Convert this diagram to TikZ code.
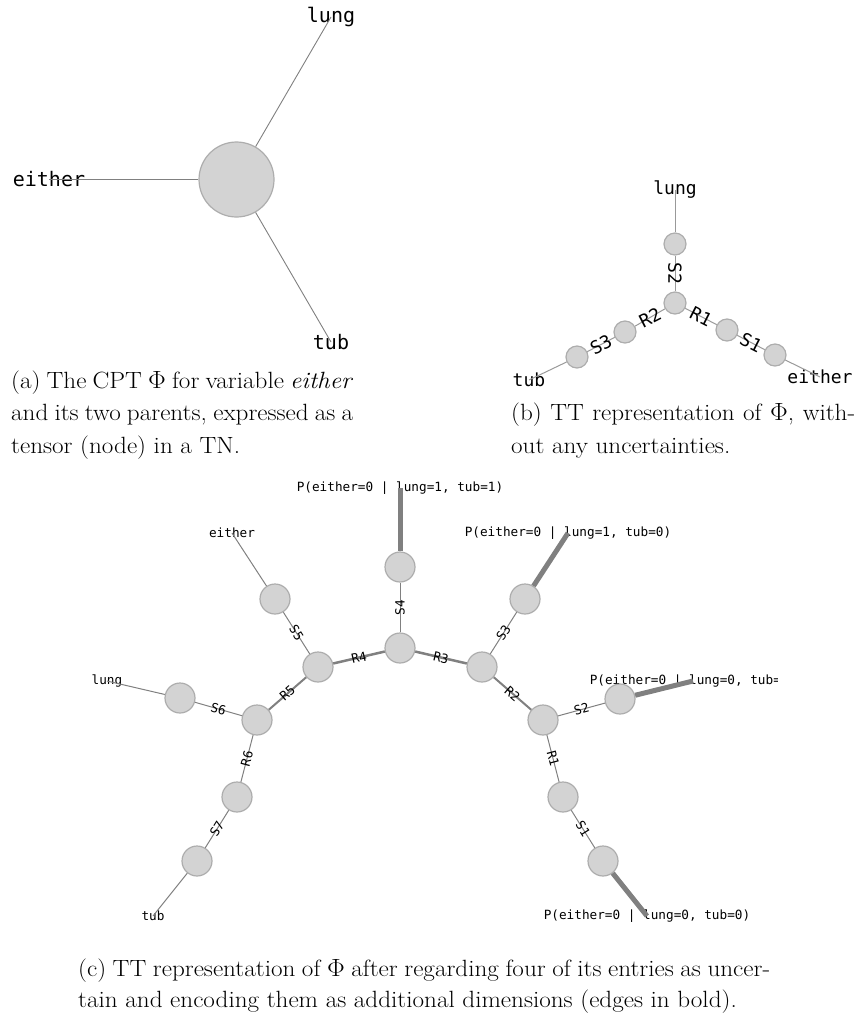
\documentclass[tikz,border=0pt]{standalone}
\usepackage{fontspec}
\newfontfamily\mono{DejaVu Sans Mono}
\definecolor{nodefill}{HTML}{D3D3D3}
\definecolor{nodeedge}{HTML}{ADADAD}
\definecolor{edgegray}{HTML}{808080}
\definecolor{edgelight}{HTML}{999999}
\newcommand{\capline}[2]{\scalebox{1.07}[1]{\makebox[#1pt][s]{#2}}}
\newcommand{\capnat}[1]{\scalebox{1.07}[1]{#1}}
\begin{document}
\begin{tikzpicture}[x=1pt,y=-1pt,
  tn/.style={circle, fill=nodefill, draw=nodeedge, line width=1.2pt, inner sep=0pt, minimum size=#1},
  lbla/.style={font=\mono\fontsize{20}{24}\selectfont, inner sep=0pt},
  lblb/.style={font=\mono\fontsize{18}{22}\selectfont, inner sep=0pt},
  lblc/.style={font=\mono\fontsize{12.7}{15}\selectfont, inner sep=0pt},
  elb/.style={font=\mono\fontsize{18}{22}\selectfont, inner sep=0pt},
  elc/.style={font=\mono\fontsize{12.7}{15}\selectfont, inner sep=0pt},
  ea/.style={draw=edgegray, line width=0.9pt},
  eb/.style={draw=edgelight, line width=1pt},
  ethin/.style={draw=edgegray, line width=1pt},
  emid/.style={draw=edgegray, line width=2pt},
  ewide/.style={draw=edgegray, line width=2.5pt},
  ebold/.style={draw=edgegray, line width=5pt},
  capstyle/.style={font=\fontsize{23.5}{33}\selectfont, anchor=base west, inner sep=0pt}]
\useasboundingbox (0,0) rectangle (859,1013);

% ---------------- panel (a)
\node[lbla] (ta_lung) at (331,17) {lung};
\node[lbla] (ta_either) at (49,179.5) {either};
\node[lbla] (ta_tub) at (331,342) {tub};
\node[tn=75] (A) at (236.5,179.5) {};
\draw[ea] (A) -- (ta_lung.center);
\draw[ea] (A) -- (ta_either.center);
\draw[ea] (A) -- (ta_tub.center);

% ---------------- panel (b)
\node[lblb] (tb_lung) at (675,190) {lung};
\node[lblb] (tb_either) at (820,377) {either};
\node[lblb] (tb_tub) at (529,380) {tub};
\node[tn=22] (b_c) at (675,303) {};
\node[tn=22] (b_s2) at (675,244) {};
\node[tn=22] (b_r1) at (727,330) {};
\node[tn=22] (b_s1) at (775,355) {};
\node[tn=22] (b_r2) at (625,332) {};
\node[tn=22] (b_s3) at (577,357) {};
\draw[eb] (b_s2) -- (tb_lung.center);
\draw[eb] (b_s1) -- (tb_either.center);
\draw[eb] (b_s3) -- (tb_tub.center);
\draw[eb] (b_c) -- node[elb, rotate=-90] {S2} (b_s2);
\draw[eb] (b_c) -- node[elb, rotate=-27] {R1} (b_r1);
\draw[eb] (b_r1) -- node[elb, rotate=-27] {S1} (b_s1);
\draw[eb] (b_c) -- node[elb, rotate=27] {R2} (b_r2);
\draw[eb] (b_r2) -- node[elb, rotate=27] {S3} (b_s3);

% ---------------- panel (c)
\node[lblc] (tc_p11) at (400,488) {P(either=0 | lung=1, tub=1)};
\node[lblc] (tc_p10) at (568,533) {P(either=0 | lung=1, tub=0)};
\node[lblc] (tc_either) at (232,533) {either};
\node[lblc] (tc_lung) at (107,681) {lung};
\node[lblc] (tc_tub) at (153,916) {tub};
\node[lblc] (tc_p00) at (647,916) {P(either=0 | lung=0, tub=0)};
\begin{scope}
\clip (0,0) rectangle (777,1013);
\node[lblc] (tc_p01) at (693,681) {P(either=0 | lung=0, tub=1)};
\end{scope}

\node[tn=30] (c4t) at (400,567) {};
\node[tn=30] (c34) at (400,648) {};
\node[tn=30] (c45) at (318,667) {};
\node[tn=30] (c5t) at (275,599) {};
\node[tn=30] (c23) at (482,667) {};
\node[tn=30] (c3t) at (525,599) {};
\node[tn=30] (c56) at (257,720) {};
\node[tn=30] (c6l) at (180,698) {};
\node[tn=30] (c67) at (237,797) {};
\node[tn=30] (c7b) at (197,861) {};
\node[tn=30] (c12) at (543,720) {};
\node[tn=30] (c2r) at (620,699) {};
\node[tn=30] (c1m) at (563,797) {};
\node[tn=30] (c1b) at (603,861) {};

\draw[ebold] (c4t) -- (tc_p11.center);
\draw[ebold] (c3t) -- (tc_p10.center);
\draw[ebold] (c2r) -- (tc_p01.center);
\draw[ebold] (c1b) -- (tc_p00.center);
\draw[ethin] (c5t) -- (tc_either.center);
\draw[ethin] (c6l) -- (tc_lung.center);
\draw[ethin] (c7b) -- (tc_tub.center);

\draw[ethin] (c34) -- node[elc, rotate=90] {S4} (c4t);
\draw[ewide] (c45) -- node[elc, rotate=13] {R4} (c34);
\draw[ewide] (c34) -- node[elc, rotate=-13] {R3} (c23);
\draw[ethin] (c5t) -- node[elc, rotate=-58] {S5} (c45);
\draw[emid] (c56) -- node[elc, rotate=41] {R5} (c45);
\draw[ethin] (c6l) -- node[elc, rotate=-16] {S6} (c56);
\draw[ethin] (c56) -- node[elc, rotate=75] {R6} (c67);
\draw[ethin] (c67) -- node[elc, rotate=58] {S7} (c7b);
\draw[ethin] (c23) -- node[elc, rotate=57] {S3} (c3t);
\draw[emid] (c23) -- node[elc, rotate=-41] {R2} (c12);
\draw[ethin] (c12) -- node[elc, rotate=15] {S2} (c2r);
\draw[ethin] (c12) -- node[elc, rotate=-75] {R1} (c1m);
\draw[ethin] (c1m) -- node[elc, rotate=-58] {S1} (c1b);

% ---------------- captions
\node[capstyle] (capa1) at (11,388) {\capline{319.6}{(a) The CPT $\Phi$ for variable \textit{either}}};
\node[capstyle] (capa2) at (11,420.5) {\capline{319.6}{and its two parents, expressed as a}};
\node[capstyle] (capa3) at (11,453) {\capnat{tensor (node) in a TN.}};
\node[capstyle] (capb1) at (511,420.5) {\capline{321.5}{(b) TT representation of $\Phi$, with-}};
\node[capstyle] (capb2) at (511,453) {\capnat{out any uncertainties.}};
\node[capstyle] (capc1) at (78,976) {\capline{646.7}{(c) TT representation of $\Phi$ after regarding four of its entries as uncer-}};
\node[capstyle] (capc2) at (78,1007.5) {\capnat{tain and encoding them as additional dimensions (edges in bold).}};
\end{tikzpicture}
\end{document}
